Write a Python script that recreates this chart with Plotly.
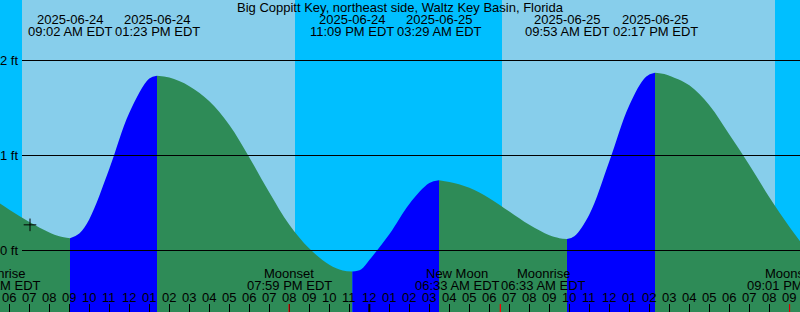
import plotly.graph_objects as go
import pandas as pd

TITLE = "Big Coppitt Key, northeast side, Waltz Key Basin, Florida"

X_START = "2025-06-24 05:32"
X_END = "2025-06-25 21:32"
LEVEL_MIN = -0.6474
LEVEL_MAX = 2.6368

# tide level readings (ft)
sample_times = [
    "2025-06-24 05:00", "2025-06-24 06:00", "2025-06-24 07:00", "2025-06-24 08:00",
    "2025-06-24 08:30", "2025-06-24 09:30", "2025-06-24 10:00", "2025-06-24 11:00",
    "2025-06-24 12:00", "2025-06-24 13:00", "2025-06-24 14:00",
    "2025-06-24 15:00", "2025-06-24 16:00", "2025-06-24 17:00", "2025-06-24 18:00",
    "2025-06-24 19:00", "2025-06-24 20:00", "2025-06-24 21:00", "2025-06-24 22:00",
    "2025-06-24 22:40", "2025-06-24 23:35", "2025-06-25 00:00", "2025-06-25 01:00",
    "2025-06-25 02:00", "2025-06-25 03:00", "2025-06-25 04:00", "2025-06-25 05:00",
    "2025-06-25 06:00", "2025-06-25 07:00", "2025-06-25 08:00", "2025-06-25 09:00",
    "2025-06-25 09:30", "2025-06-25 10:15", "2025-06-25 11:00", "2025-06-25 12:00",
    "2025-06-25 13:00", "2025-06-25 13:50", "2025-06-25 14:40", "2025-06-25 15:00",
    "2025-06-25 16:00", "2025-06-25 17:00", "2025-06-25 18:00", "2025-06-25 19:00",
    "2025-06-25 20:00", "2025-06-25 21:00", "2025-06-25 22:00",
]
sample_levels = [
    0.57, 0.43, 0.30, 0.19,
    0.15, 0.18, 0.33, 0.86,
    1.45, 1.81, 1.82,
    1.73, 1.57, 1.32, 0.98,
    0.61, 0.27, 0.02, -0.15,
    -0.21, -0.20, -0.10, 0.17,
    0.49, 0.71, 0.72, 0.66,
    0.55, 0.41, 0.27, 0.16,
    0.13, 0.15, 0.38, 0.94,
    1.53, 1.83, 1.86, 1.84,
    1.74, 1.53, 1.22, 0.90,
    0.56, 0.25, -0.03,
]

# high / low tides
tide_times = ["2025-06-24 09:02", "2025-06-24 13:23", "2025-06-24 23:09",
              "2025-06-25 03:29", "2025-06-25 09:53", "2025-06-25 14:17"]
tide_levels = [0.13, 1.84, -0.22, 0.74, 0.12, 1.87]
tide_dates = ["2025-06-24", "2025-06-24", "2025-06-24", "2025-06-25", "2025-06-25", "2025-06-25"]
tide_clock = ["09:02 AM EDT", "01:23 PM EDT", "11:09 PM EDT",
              "03:29 AM EDT", "09:53 AM EDT", "02:17 PM EDT"]

sunrise_times = ["2025-06-24 06:38", "2025-06-25 06:38"]
sunset_times = ["2025-06-24 20:17", "2025-06-25 20:17"]

moon_times = ["2025-06-24 05:26", "2025-06-24 19:59", "2025-06-25 06:33",
              "2025-06-25 06:33", "2025-06-25 21:01"]
moon_names = ["Moonrise", "Moonset", "New Moon", "Moonrise", "Moonset"]
moon_clock = ["05:26 AM EDT", "07:59 PM EDT", "06:33 AM EDT", "06:33 AM EDT", "09:01 PM EDT"]

now_time = "2025-06-24 07:02"
now_level = 0.27

level_ticks = [0, 1, 2]
level_tick_text = ["0 ft", "1 ft", "2 ft"]

# ---- styles ----
W, H = 800, 312
NIGHT = "#00BFFF"
DAY = "#87CEEB"
FALL = "#2E8B57"
RISE = "#0000FF"
FONT = dict(family="Liberation Sans, Arial, sans-serif", size=13, color="black")
GRID_LEFT_PX = 22
TICK_LEN = 8
moon_label_shift = [0, 0, -43, 43, 0]


def ypos(px):
    return 1 - px / H


x0 = pd.Timestamp(X_START)
x1 = pd.Timestamp(X_END)
px_per_hour = W / ((x1 - x0).total_seconds() / 3600)

series = pd.DataFrame({
    "t": pd.to_datetime(sample_times + tide_times),
    "level": sample_levels + tide_levels,
}).sort_values("t").reset_index(drop=True)

bounds = [series.t.iloc[0]] + list(pd.to_datetime(tide_times)) + [series.t.iloc[-1]]

fig = go.Figure()
for a, b in zip(bounds[:-1], bounds[1:]):
    seg = series[(series.t >= a) & (series.t <= b)]
    rising = seg.level.iloc[-1] > seg.level.iloc[0]
    fig.add_trace(go.Scatter(
        x=[seg.t.iloc[0], seg.t.iloc[-1]], y=[LEVEL_MIN, LEVEL_MIN],
        mode="lines", line=dict(width=0), hoverinfo="skip", showlegend=False))
    fig.add_trace(go.Scatter(
        x=seg.t, y=seg.level, mode="lines",
        line=dict(width=0, shape="spline"),
        fill="tonexty", fillcolor=RISE if rising else FALL,
        hoverinfo="skip", showlegend=False))

fig.add_trace(go.Scatter(
    x=[now_time], y=[now_level], mode="markers",
    marker=dict(symbol="cross-thin", size=9, line=dict(width=1, color="black"), color="black"),
    hoverinfo="skip", showlegend=False))

shapes = []
for sr, ss in zip(sunrise_times, sunset_times):
    shapes.append(dict(type="rect", xref="x", yref="paper", x0=sr, x1=ss, y0=0, y1=1,
                       fillcolor=DAY, line=dict(width=0), layer="below"))
for lv in level_ticks:
    shapes.append(dict(type="line", xref="paper", yref="y", x0=GRID_LEFT_PX / W, x1=1,
                       y0=lv, y1=lv, line=dict(color="black", width=1), layer="above"))

hours = pd.date_range(x0.ceil("h"), x1.floor("h"), freq="h")
for h in hours:
    if h.hour == 0:
        shapes.append(dict(type="line", xref="x", yref="paper", x0=h, x1=h, y0=0,
                           y1=TICK_LEN / H, line=dict(color="black", width=2), layer="above"))
for t in pd.to_datetime(moon_times):
    if x0 <= t <= x1:
        shapes.append(dict(type="line", xref="x", yref="paper", x0=t, x1=t, y0=0,
                           y1=TICK_LEN / H, line=dict(color="red", width=1), layer="above"))

ann = []
ann.append(dict(text=TITLE, xref="paper", yref="paper", x=0.5, y=ypos(7.5)))
for t, d, c in zip(tide_times, tide_dates, tide_clock):
    ann.append(dict(text=d, xref="x", yref="paper", x=t, y=ypos(19.5)))
    ann.append(dict(text=c, xref="x", yref="paper", x=t, y=ypos(31.3)))
for t, n, c, s in zip(pd.to_datetime(moon_times), moon_names, moon_clock, moon_label_shift):
    xa = min(max(t, x0), x1)
    shift = s + (t - xa).total_seconds() / 3600 * px_per_hour
    ann.append(dict(text=n, xref="x", yref="paper", x=xa, xshift=shift, y=ypos(273.5)))
    ann.append(dict(text=c, xref="x", yref="paper", x=xa, xshift=shift, y=ypos(285.8)))
for h in hours:
    ann.append(dict(text=h.strftime("%I"), xref="x", yref="paper", x=h, y=ypos(297.8)))
for lv, txt in zip(level_ticks, level_tick_text):
    ann.append(dict(text=txt, xref="paper", yref="y", x=20 / W, xanchor="right", y=lv))

for a in ann:
    a.setdefault("xanchor", "center")
    a.update(yanchor="middle", showarrow=False, font=FONT)

fig.update_layout(
    width=W, height=H, autosize=False,
    margin=dict(l=0, r=0, t=0, b=0, pad=0),
    paper_bgcolor=NIGHT, plot_bgcolor=NIGHT,
    showlegend=False,
    shapes=shapes, annotations=ann,
    xaxis=dict(type="date", range=[X_START, X_END], showgrid=False, zeroline=False,
               showline=False, showticklabels=False, ticks="inside", ticklen=TICK_LEN,
               tickwidth=1, tickcolor="black", dtick=3600000, tick0="2025-06-24 00:00",
               fixedrange=True),
    yaxis=dict(range=[LEVEL_MIN, LEVEL_MAX], showgrid=False, zeroline=False,
               showline=False, showticklabels=False, ticks="", fixedrange=True),
)

fig.write_html("out.html", config={"displayModeBar": False})
